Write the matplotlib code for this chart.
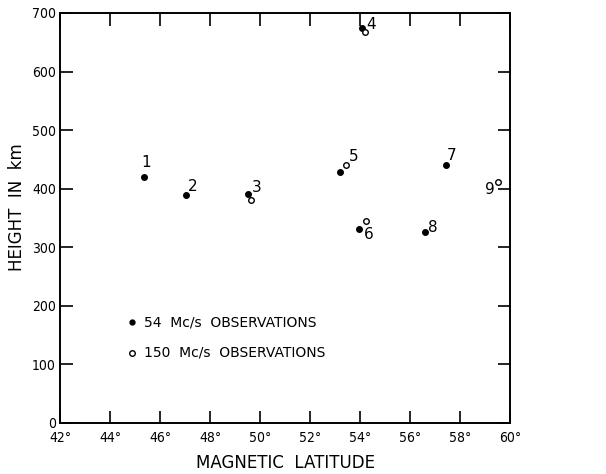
import matplotlib
matplotlib.use("Agg")
import matplotlib.pyplot as plt

# 54 Mc/s observations (filled dots)
lat54 = [45.36, 47.04, 49.53, 54.07, 53.20, 53.95, 57.43, 56.59]
h54 = [420, 390, 391, 675, 429, 332, 440, 326]
# 150 Mc/s observations (open dots)
lat150 = [49.64, 54.18, 53.44, 54.23, 59.52]
h150 = [380, 668, 440, 345, 412]

# station numbers and the point each label sits next to
point_names = ["1", "2", "3", "4", "5", "6", "7", "8", "9"]
point_lat = [45.36, 47.04, 49.53, 54.07, 53.44, 53.95, 57.43, 56.59, 59.52]
point_h = [420, 390, 391, 675, 440, 332, 440, 326, 412]
# label offsets in pixels (style only)
label_off = [(2, 14), (7, 8), (8, 6), (9, 3), (8, 9), (10, -6), (6, 10), (8, 5), (-8, -8)]

xticks = list(range(42, 61, 2))
yticks = list(range(0, 701, 100))

plt.rcParams['font.family'] = ['DejaVu Sans']

fig = plt.figure(figsize=(6.06, 4.74), dpi=100)
ax = fig.add_axes([0.099, 0.1076, 0.7426, 0.865])

ax.plot(lat54, h54, 'o', color='black', ms=4, mec='black')
ax.plot(lat150, h150, 'o', mfc='white', mec='black', ms=4, mew=1.0)

for name, x, y, off in zip(point_names, point_lat, point_h, label_off):
    ax.annotate(name, (x, y), xytext=off, textcoords='offset pixels',
                ha='center', va='center', fontsize=11)

# legend drawn as in the original figure
ax.plot([44.9], [172], 'o', color='black', ms=3.5)
ax.text(45.35, 172, "54  Mc/s  OBSERVATIONS", va='center', fontsize=10)
ax.plot([44.9], [120], 'o', mfc='white', mec='black', ms=4, mew=1.0)
ax.text(45.35, 120, "150  Mc/s  OBSERVATIONS", va='center', fontsize=10)

ax.set_xlim(42, 60)
ax.set_ylim(0, 700)
ax.set_xticks(xticks)
ax.set_xticklabels([f"{v}\u00b0" for v in xticks], fontsize=10, fontstretch='condensed')
ax.set_yticks(yticks)
ax.set_yticklabels([str(v) for v in yticks], fontsize=10, fontstretch='condensed')
ax.tick_params(direction='in', length=9, width=1.2, top=True, right=True,
               labeltop=False, labelright=False)
ax.tick_params(axis='x', pad=6)
ax.tick_params(axis='y', pad=3)
for s in ax.spines.values():
    s.set_linewidth(1.4)

ax.set_xlabel("MAGNETIC  LATITUDE", fontsize=12, labelpad=6)
ax.set_ylabel("HEIGHT  IN  km", fontsize=12, va='center')
ax.yaxis.set_label_coords(-0.095, 0.527)

fig.savefig("out.png", dpi=100)
